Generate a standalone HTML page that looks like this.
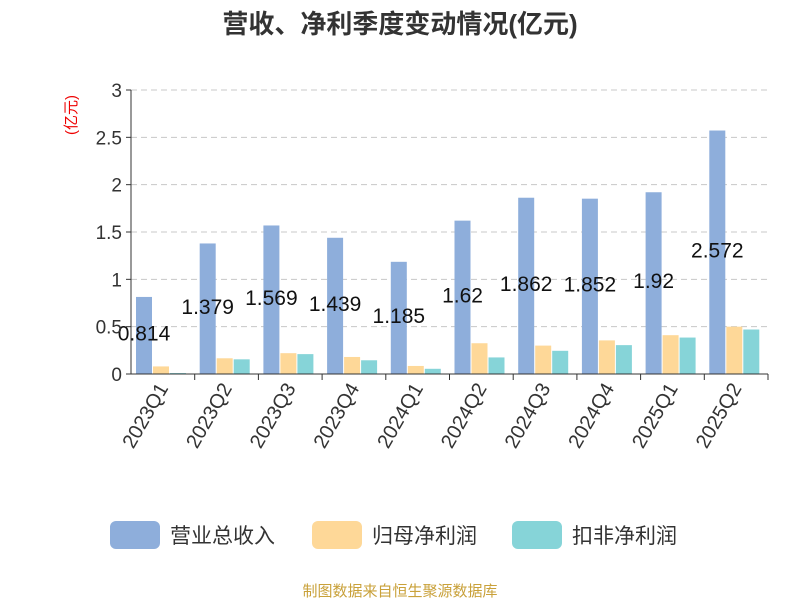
<!DOCTYPE html>
<html><head><meta charset="utf-8"><style>
body{margin:0;background:#fff;}
svg text{font-family:"Liberation Sans","Noto Sans CJK SC",sans-serif;}
</style></head><body>
<svg id="c" width="800" height="600">
<text x="400" y="33" text-anchor="middle" font-size="26" font-weight="bold" fill="#333">营收、净利季度变动情况(亿元)</text>
<text transform="translate(76,115) rotate(-90)" text-anchor="middle" font-size="15" fill="#e00">(亿元)</text>
<g id="grid"></g><g id="bars"></g><g id="labels"></g><g id="axes"></g>
<g>
<rect x="110" y="521" width="50" height="28" rx="6" fill="#8eaedb"/>
<text x="170" y="543" font-size="21" fill="#333">营业总收入</text>
<rect x="312" y="521" width="50" height="28" rx="6" fill="#fed898"/>
<text x="372" y="543" font-size="21" fill="#333">归母净利润</text>
<rect x="512" y="521" width="50" height="28" rx="6" fill="#86d4d8"/>
<text x="572" y="543" font-size="21" fill="#333">扣非净利润</text>
</g>
<text x="400" y="596" text-anchor="middle" font-size="15" fill="#c9a13a">制图数据来自恒生聚源数据库</text>
</svg>
<script>
const categories=["2023Q1","2023Q2","2023Q3","2023Q4","2024Q1","2024Q2","2024Q3","2024Q4","2025Q1","2025Q2"];
const revenue=[0.814,1.379,1.569,1.439,1.185,1.62,1.862,1.852,1.92,2.572];
const netProfit=[0.08,0.166,0.22,0.18,0.085,0.325,0.30,0.355,0.41,0.50];
const deductedProfit=[0.01,0.155,0.21,0.145,0.055,0.175,0.245,0.305,0.385,0.47];
const yTicks=[0,0.5,1,1.5,2,2.5,3];
const yTickLabels=["0","0.5","1","1.5","2","2.5","3"];
const NS="http://www.w3.org/2000/svg";
const X0=131,X1=768,Y0=374,Y1=90,YMAX=3;
const slot=(X1-X0)/categories.length;
const y=v=>Y0-(v/YMAX)*(Y0-Y1);
const xs=i=>X0+i*slot;
function mk(tag,attrs,parent){const e=document.createElementNS(NS,tag);for(const k in attrs)e.setAttribute(k,attrs[k]);document.getElementById(parent).appendChild(e);return e;}
yTicks.forEach((t,i)=>{
  if(t>0){const l=mk('line',{x1:X0,x2:X1,y1:y(t),y2:y(t),stroke:'#c8c8c8','stroke-dasharray':'6,4'},'grid');
  
  }
  const tx=mk('text',{x:X0-9,y:y(t)+7,'text-anchor':'end','font-size':19,fill:'#333'},'axes');
  tx.textContent=yTickLabels[i];
  
  
  const tk=mk('line',{x1:X0-5,x2:X0,y1:y(t),y2:y(t),stroke:'#333'},'axes');
  
  
});
const ya=mk('line',{x1:X0,x2:X0,y1:Y1,y2:Y0,stroke:'#333'},'axes');


const xa=mk('line',{x1:X0,x2:X1,y1:Y0,y2:Y0,stroke:'#333'},'axes');


const series=[[revenue,'#8eaedb'],[netProfit,'#fed898'],[deductedProfit,'#86d4d8']];
const bw=16,gap=1;
categories.forEach((c,i)=>{
  series.forEach((s,j)=>{
    const v=s[0][i];const bx=xs(i)+5+j*(bw+gap);
    const r=mk('rect',{x:bx,y:y(v),width:bw,height:Y0-y(v),fill:s[1]},'bars');
    
    
  });
  const lx=xs(i)+5+bw/2;
  const lb=mk('text',{x:lx,y:y(revenue[i]/2+0.02)+7,'text-anchor':'middle','font-size':21,fill:'#111'},'labels');
  lb.textContent=String(revenue[i]);
  
  
  const tk=mk('line',{x1:xs(i+1),x2:xs(i+1),y1:Y0,y2:Y0+6,stroke:'#333'},'axes');
  
  
  const cx=xs(i)+slot/2;
  const xl=mk('text',{x:0,y:0,'text-anchor':'end','font-size':20,fill:'#333',transform:`translate(${cx+6},${Y0+14}) rotate(-60)`},'axes');
  xl.textContent=c;
  
  
});
</script>
</body></html>
